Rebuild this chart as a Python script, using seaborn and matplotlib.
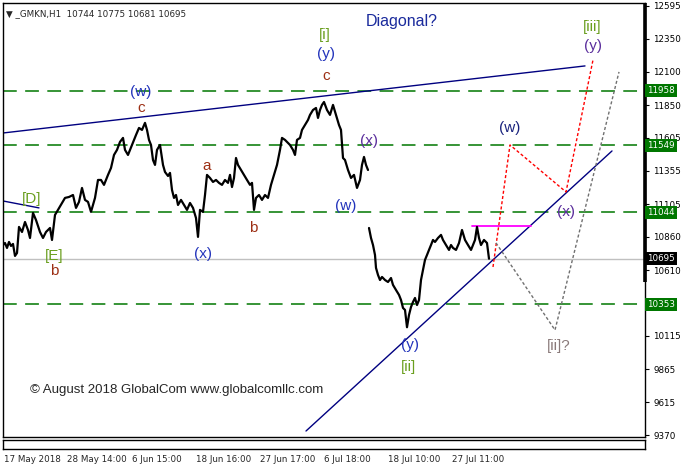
import pandas as pd
import numpy as np
import matplotlib
matplotlib.use('Agg')
import matplotlib.pyplot as plt
import seaborn as sns

# price path (bar position, close)
seg1_x = [3, 5, 7, 9, 11, 13, 15, 17, 19, 22, 25, 28, 30, 33, 36, 40, 43, 46, 50, 52,
          55, 58, 62, 65, 69, 73, 76, 79, 82, 85, 88, 91, 95, 98, 101, 104, 108, 111, 114, 117,
          120, 123, 125, 128, 132, 136, 139, 142, 145, 147, 149, 151, 153, 155, 157, 160, 163, 165, 168, 170,
          172, 174, 176, 178, 181, 184, 187, 190, 193, 196, 198, 200, 203, 205, 207, 210, 213, 216, 219, 222,
          225, 228, 230, 232, 234, 236, 238, 241, 244, 247, 250, 252, 254, 256, 259, 262, 265, 268, 271, 274,
          277, 280, 282, 285, 287, 290, 293, 295, 297, 300, 302, 305, 308, 310, 313, 316, 318, 320, 322, 324,
          327, 330, 333, 336, 339, 341, 343, 345, 348, 351, 354, 357, 360, 362, 364, 366, 368]
seg1_p = [10798, 10813, 10776, 10821, 10791, 10806, 10716, 10738, 10934, 10896, 10971, 10911, 10851, 11039, 10986, 10896, 10851, 10896, 10926, 10836,
          11024, 11062, 11114, 11152, 11159, 11174, 11077, 11122, 11227, 11137, 11122, 11047, 11152, 11287, 11287, 11250, 11325, 11377, 11475, 11513,
          11573, 11603, 11513, 11475, 11550, 11625, 11678, 11663, 11716, 11663, 11588, 11550, 11437, 11400, 11513, 11550, 11400, 11347, 11317, 11340,
          11212, 11152, 11174, 11099, 11137, 11099, 11062, 11114, 11077, 11001, 10859, 11062, 11047, 11174, 11325, 11302, 11272, 11287, 11265, 11250,
          11287, 11265, 11325, 11234, 11302, 11452, 11400, 11362, 11325, 11287, 11250, 11265, 11062, 11152, 11174, 11137, 11174, 11152, 11250, 11325,
          11400, 11513, 11603, 11588, 11573, 11550, 11513, 11475, 11588, 11603, 11663, 11700, 11738, 11776, 11813, 11828, 11753, 11813, 11851, 11873,
          11813, 11776, 11851, 11776, 11700, 11663, 11452, 11437, 11362, 11302, 11325, 11227, 11287, 11400, 11460, 11400, 11362]

seg2_x = [369, 371, 373, 375, 376, 378, 380, 382, 385, 388, 391, 393, 396, 399, 401, 403, 405, 407, 409, 411,
          413, 415, 417, 419, 421, 423, 425, 427, 429, 431, 433, 435, 438, 441, 443, 446, 449, 451, 453, 456,
          459, 462, 465, 468, 471, 473, 475, 477, 479, 481, 484, 487, 489]
seg2_p = [10926, 10851, 10798, 10723, 10626, 10573, 10535, 10558, 10535, 10520, 10550, 10498, 10460, 10423, 10385, 10325, 10310, 10180, 10272, 10332,
          10370, 10400, 10347, 10385, 10535, 10611, 10686, 10723, 10761, 10798, 10836, 10821, 10851, 10874, 10836, 10798, 10761, 10798, 10776, 10761,
          10813, 10911, 10836, 10798, 10761, 10798, 10836, 10934, 10851, 10798, 10836, 10813, 10695]

# horizontal levels
levels = [11958, 11549, 11044, 10353]
last_price = 10695

# right axis ticks
ytick_vals = [12595, 12350, 12100, 11850, 11605, 11355, 11105, 10860, 10610, 10115, 9865, 9615, 9370]

# time axis
xtick_pos = [3.5, 67, 131.5, 196, 260, 324.5, 388.5, 452.5]
xtick_lbl = ['17 May 2018', '28 May 14:00', '6 Jun 15:00', '18 Jun 16:00',
             '27 Jun 17:00', '6 Jul 18:00', '18 Jul 10:00', '27 Jul 11:00']

# trend lines / projections
upper_x, upper_p = [3, 585], [11640, 12144]
short_x, short_p = [3, 39], [11129, 11077]
rise_x, rise_p = [306, 612], [9400, 11505]
mag_x, mag_p = [472, 531], [10941, 10941]
red_x, red_p = [493, 510, 566, 593], [10633, 11550, 11197, 12189]
gray_x, gray_p = [496, 555, 619], [10814, 10159, 12099]

# wave labels: text, bar, price, colour
GREEN = '#6a9f1e'
BLUE = '#2233bb'
PURPLE = '#5a2d9c'
BROWN = '#9c2f14'
labels = [
    ('[D]', 32, 11144, GREEN), ('[E]', 54, 10716, GREEN), ('b', 54, 10605, BROWN),
    ('(w)', 141, 11950, BLUE), ('c', 141, 11830, BROWN), ('a', 207, 11392, BROWN),
    ('b', 253, 10926, BROWN), ('(x)', 203, 10731, BLUE),
    ('[i]', 325, 12377, GREEN), ('(y)', 326, 12234, BLUE), ('c', 326, 12069, BROWN),
    ('(x)', 369, 11580, PURPLE), ('(w)', 346, 11092, BLUE),
    ('(y)', 410, 10047, BLUE), ('[ii]', 409, 9881, GREEN),
    ('(w)', 510, 11678, '#1a237e'), ('(x)', 566, 11047, PURPLE),
    ('[iii]', 592, 12437, GREEN), ('(y)', 593, 12294, PURPLE),
    ('[ii]?', 559, 10039, '#8a7a7a'),
]

sns.set_style('white')
plt.rcParams['font.family'] = ['DejaVu Sans']

W, H = 685, 470
fig = plt.figure(figsize=(W / 100, H / 100), dpi=100)
ax = fig.add_axes([3 / W, 1 - 437 / H, 642 / W, 434 / H])
axb = fig.add_axes([3 / W, 1 - 449 / H, 642 / W, 9 / H], sharex=ax)

df = pd.DataFrame({
    'bar': seg1_x + seg2_x,
    'price': seg1_p + seg2_p,
    'seg': [1] * len(seg1_x) + [2] * len(seg2_x),
})

for lv in levels:
    ax.axhline(lv, color='#007700', lw=1.1, dashes=(9, 5.5), zorder=1)
ax.axhline(last_price, color='#c0c0c0', lw=1, zorder=1)

sns.lineplot(data=df, x='bar', y='price', units='seg', estimator=None, sort=False,
             color='black', lw=1.6, ax=ax, zorder=3)

ax.plot(upper_x, upper_p, color='#000080', lw=1)
ax.plot(short_x, short_p, color='#000080', lw=1)
ax.plot(rise_x, rise_p, color='#000080', lw=1)
ax.plot(mag_x, mag_p, color='#ff00ff', lw=1.3)
ax.plot(red_x, red_p, color='#ff0000', lw=1, dashes=(2.2, 1.6))
ax.plot(gray_x, gray_p, color='#707070', lw=1, dashes=(2.2, 1.6))

for txt, bx, py, col in labels:
    ax.text(bx, py, txt, color=col, fontsize=11, ha='center', va='center',
            family='Liberation Sans')
ax.text(402, 12475, 'Diagonal?', color='#1a2a9c', fontsize=11.5, ha='center', va='center',
        family='Liberation Sans')
ax.text(30, 9705, '\u00a9 August 2018 GlobalCom www.globalcomllc.com', fontsize=9.5,
        ha='left', va='center', family='Liberation Sans')
ax.text(0.004, 0.985, '\u25bc _GMKN,H1  10744 10775 10681 10695', transform=ax.transAxes,
        fontsize=6.3, ha='left', va='top')

ax.set_xlim(3, 645)
ax.set_ylim(9355, 12617)
ax.set_xlabel('')
ax.set_ylabel('')
ax.yaxis.tick_right()
ax.set_yticks(ytick_vals)
ax.set_yticklabels([str(v) for v in ytick_vals])
ax.tick_params(axis='y', direction='out', length=3, width=0.8, pad=3, labelsize=6.3, colors='black')
ax.tick_params(axis='x', bottom=False, labelbottom=False)
for sp in ax.spines.values():
    sp.set_color('black')
    sp.set_linewidth(1)
# thick marker on upper part of the price scale
ax.plot([1, 1], [1, (437 - 282) / 434], transform=ax.transAxes, color='black', lw=2.6,
        clip_on=False, solid_capstyle='butt')

# highlighted price boxes
for lv in levels:
    ax.text(1.0035, lv, str(lv), transform=ax.get_yaxis_transform(), color='white',
            fontsize=6.3, ha='left', va='center', zorder=6,
            bbox=dict(boxstyle='square,pad=0.22', fc='#007700', ec='none'))
ax.text(1.0035, last_price, str(last_price), transform=ax.get_yaxis_transform(), color='white',
        fontsize=6.3, ha='left', va='center', zorder=6,
        bbox=dict(boxstyle='square,pad=0.22', fc='black', ec='none'))

axb.set_yticks([])
axb.set_xticks(xtick_pos)
axb.set_xticklabels(xtick_lbl)
axb.tick_params(axis='x', direction='out', length=3, width=0.8, pad=1, labelsize=6.3)
for lbl in axb.get_xticklabels():
    lbl.set_ha('left')
for sp in axb.spines.values():
    sp.set_color('black')
    sp.set_linewidth(1)

fig.savefig('out.png', dpi=100, facecolor='white')
